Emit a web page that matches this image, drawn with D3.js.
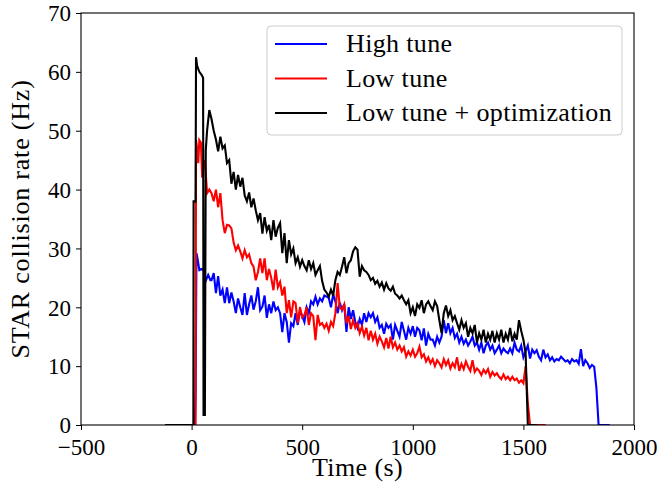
<!DOCTYPE html>
<html>
<head>
<meta charset="utf-8">
<script src="https://cdn.jsdelivr.net/npm/d3@7"></script>
<style>
  body { margin: 0; background: #fff; }
  svg text { font-family: "Liberation Serif", "DejaVu Serif", serif; fill: #000; }
</style>
</head>
<body>
<div id="chart"></div>
<script>
// legend labels / colours
const seriesNames = ["High tune", "Low tune", "Low tune + optimization"];
const seriesColors = ["#0000ff", "#ff0000", "#000000"];

const xTicks = [-500, 0, 500, 1000, 1500, 2000];
const yTicks = [0, 10, 20, 30, 40, 50, 60, 70];

// body of each series is sampled every 10 s starting at t = 90
const bodyStart = 90, bodyStep = 10;

// High tune
const blueHead = [[-120, 0], [0, 0], [15, 0], [18, 5.4], [22, 29.2], [28, 28], [35, 26.3], [45, 26.5], [55, 26.3], [65, 24.6], [75, 25.5], [85, 24.6]];
const blueBody = [24.6, 25.8, 22.4, 25.3, 22, 23, 20.7, 23.4, 20.7, 22.5, 21, 19, 21.5, 20, 18.7, 22.4, 18.7, 20.5, 22, 19.6,
  21, 23.4, 19.5, 20.1, 22, 18.2, 20.5, 19, 21, 19.5, 20, 19, 15.8, 19, 17.5, 14, 17.3, 16.8, 19, 17,
  19.5, 18.5, 17.5, 20, 19, 21, 20.5, 21.8, 20.5, 21.5, 21, 22, 21.8, 21.6, 20, 22.2, 21, 19, 20.8, 19.5,
  20.5, 15.8, 20, 18, 19.5, 17.5, 16.5, 18, 17, 19, 17.5, 19, 18.3, 19, 17.5, 18.3, 16.5, 17, 15.5, 17.2,
  16.5, 17, 14.5, 17, 16, 15, 17.5, 16, 14.5, 16.5, 15.5, 16.8, 15, 16.5, 16.1, 14.4, 16.4, 13.5, 15.5, 14.5,
  14.5, 13.5, 15, 14, 15, 17.8, 15.6, 17.3, 15.6, 16.5, 14.8, 15.5, 14, 15, 13.8, 14.5, 13.5, 14.2, 15, 13.5,
  14, 12.8, 14, 12.2, 13.5, 14, 12.8, 13.5, 12.2, 12.8, 13.5, 12.2, 13, 12.5, 12.2, 13, 12.2, 14, 12.8, 12.5,
  13.5, 11.5, 12.5, 13.5, 11.3, 12.8, 12.2, 12.7, 11.6, 11, 12.8, 11.5, 12, 11, 11.5, 10.8, 11.2, 11, 11.6, 11.2,
  10.8, 11, 10.5, 11.2, 10.8, 11, 10.4, 12.9, 10, 11, 10.5, 9.7, 10.2, 9.9, 6.3, 0];
const blueTail = [[1890, 0]];

// Low tune
const redHead = [[-120, 0], [0, 0], [18, 0], [20, 48.4], [25, 47], [30, 44.5], [35, 48.4], [42, 48], [48, 42], [55, 44.5], [60, 45], [70, 39.4], [80, 40]];
const redBody = [39.4, 38, 40, 37, 39.4, 34.8, 32.6, 34, 33.9, 33.4, 31, 29.7, 30.5, 29.5, 28.3, 29.7, 28.5, 29, 27.5, 26.9,
  24.6, 26, 28.3, 25.8, 28.3, 24.6, 26.5, 25, 22.9, 26.4, 23.4, 24.3, 22, 23.5, 19, 21.2, 18.3, 21, 20.7, 17.3,
  20, 18.3, 18.7, 20, 17, 19, 18.5, 14.4, 18.7, 17, 17.3, 16.5, 17.2, 16, 17.5, 16.8, 19, 24.1, 20, 19.6,
  20.5, 17.3, 18.5, 16.3, 17.8, 16.5, 17.3, 15.6, 16.7, 15.2, 16.5, 14.4, 16, 14.5, 15.5, 13.8, 15, 14.2, 13.2, 14.8,
  13, 15, 13.2, 14, 12.8, 13.5, 12.5, 13.2, 11.6, 12.5, 11.8, 12.8, 11.6, 12.2, 13.3, 11.5, 12, 10.8, 11.5, 10.5,
  11.2, 10, 11, 10.5, 9.8, 11.2, 10.2, 11, 9.6, 10.5, 9.8, 11.5, 9.2, 10.4, 9.5, 10.8, 9.9, 9.2, 11, 9,
  9.6, 9.2, 8.5, 9.4, 8.8, 9.5, 8.2, 9, 8.4, 8.8, 8.2, 7.8, 8.6, 7.8, 8.2, 7.6, 8.2, 7.6, 7.9, 7.2,
  7.6, 7.1, 10, 3.7, 0];
const redTail = [[1600, 0]];

// Low tune + optimization
const blackHead = [[-120, 0], [0, 0], [8, 0], [9, 38], [18, 38], [20, 62.5], [25, 61], [35, 60], [45, 59.5], [52, 59], [54, 1.7], [60, 1.7], [64, 46.7], [70, 50], [80, 53.5]];
const blackBody = [52, 50, 48.5, 46.5, 49, 47, 47.5, 44.5, 45, 41, 43, 40, 42.5, 40.5, 42, 39, 38, 39.5, 37, 38.5,
  36.5, 34.8, 36, 32.5, 35.3, 33, 34, 31.4, 34.8, 32, 33.5, 34.3, 29.2, 32.6, 27.5, 31.4, 29, 30, 27.5, 28.5,
  26.9, 28, 27, 26.3, 28, 26.5, 27.5, 25.5, 26.3, 27, 24.5, 23, 22.5, 21.8, 23, 22, 24.6, 26, 25.5, 26.9,
  28.5, 25.8, 27.5, 28, 29.5, 30.2, 29.8, 25.2, 27, 26.3, 26, 25.5, 24.6, 25, 24, 24.5, 23.5, 24.2, 23, 24.1,
  23.2, 22.8, 23.5, 22.3, 22, 21.5, 22, 21.2, 20.5, 21.2, 19, 20, 18.5, 20.5, 19.9, 21.2, 19, 20.5, 21, 20.2,
  19.5, 21, 20.2, 17.8, 15.6, 19, 20.3, 18.5, 19.5, 17.8, 18.5, 17.3, 16.2, 17.8, 16.5, 17.3, 15, 16.5, 15.6, 17,
  14, 15.6, 14.5, 16.2, 14, 15.5, 14.5, 16, 14, 15.6, 14.5, 16.2, 14, 15.5, 14.5, 16.5, 14.2, 15.5, 14.5, 17.8,
  16, 14.5, 12.2, 0];
const blackTail = [[1560, 0]];

function build(head, body, tail) {
  const pts = head.slice();
  body.forEach(function (v, i) { pts.push([bodyStart + i * bodyStep, v]); });
  return pts.concat(tail);
}

const series = [
  build(blueHead, blueBody, blueTail),
  build(redHead, redBody, redTail),
  build(blackHead, blackBody, blackTail)
];

const width = 659, height = 489;
const margin = {top: 13, right: 25, bottom: 64, left: 81};

const svg = d3.select("#chart").append("svg")
  .attr("width", width)
  .attr("height", height);

const x = d3.scaleLinear().domain([-500, 2000]).range([margin.left, width - margin.right]);
const y = d3.scaleLinear().domain([0, 70]).range([height - margin.bottom, margin.top]);

const plot = svg.append("g");

plot.append("clipPath").attr("id", "clip")
  .append("rect")
  .attr("x", margin.left).attr("y", margin.top)
  .attr("width", x.range()[1] - margin.left)
  .attr("height", y.range()[0] - margin.top);

const line = d3.line().x(d => x(d[0])).y(d => y(d[1]));

plot.selectAll(".series")
  .data(series)
  .enter()
  .append("path")
  .attr("class", "series")
  .attr("clip-path", "url(#clip)")
  .attr("d", line)
  .attr("fill", "none")
  .attr("stroke", (d, i) => seriesColors[i])
  .attr("stroke-width", 2.1)
  .attr("stroke-linejoin", "miter")
  .attr("stroke-linecap", "butt");

// axes
const xAxis = svg.append("g")
  .attr("transform", "translate(0," + y(0) + ")")
  .call(d3.axisBottom(x).tickValues(xTicks).tickSize(5).tickPadding(4)
    .tickFormat(d => d < 0 ? "\u2212" + Math.abs(d) : d));
const yAxis = svg.append("g")
  .attr("transform", "translate(" + x(-500) + ",0)")
  .call(d3.axisLeft(y).tickValues(yTicks).tickSize(5).tickPadding(5));

[xAxis, yAxis].forEach(function (g) {
  g.select(".domain").remove();
  g.selectAll("line").attr("stroke", "#000").attr("stroke-width", 1);
  g.selectAll("text").style("font-size", "23px").attr("fill", "#000");
});
xAxis.selectAll("text").attr("dy", "0.9em");
yAxis.selectAll("text").attr("dy", "0.34em");

svg.append("rect")
  .attr("x", x(-500)).attr("y", y(70))
  .attr("width", x(2000) - x(-500))
  .attr("height", y(0) - y(70))
  .attr("fill", "none")
  .attr("stroke", "#000")
  .attr("stroke-width", 1.1);

svg.append("text")
  .attr("x", (x(-500) + x(2000)) / 2)
  .attr("y", 476)
  .attr("text-anchor", "middle")
  .style("font-size", "26px")
  .style("letter-spacing", "0.4px")
  .text("Time (s)");

svg.append("text")
  .attr("transform", "translate(29," + (y(0) + y(70)) / 2 + ") rotate(-90)")
  .attr("text-anchor", "middle")
  .style("font-size", "26px")
  .style("letter-spacing", "0.8px")
  .text("STAR collision rate (Hz)");

// legend
const legend = svg.append("g");
legend.append("rect")
  .attr("x", 267).attr("y", 26)
  .attr("width", 355).attr("height", 109)
  .attr("rx", 4)
  .attr("fill", "#fff").attr("fill-opacity", 0.8)
  .attr("stroke", "#cccccc").attr("stroke-width", 1);

const rows = legend.selectAll(".row")
  .data(seriesNames)
  .enter()
  .append("g")
  .attr("class", "row")
  .attr("transform", (d, i) => "translate(0," + (44 + i * 34.5) + ")");

rows.append("line")
  .attr("x1", 275).attr("x2", 327)
  .attr("stroke", (d, i) => seriesColors[i])
  .attr("stroke-width", 2.1);

rows.append("text")
  .attr("x", 346)
  .attr("y", 8)
  .style("font-size", "26px")
  .style("letter-spacing", "0.35px")
  .text(d => d);
</script>
</body>
</html>
